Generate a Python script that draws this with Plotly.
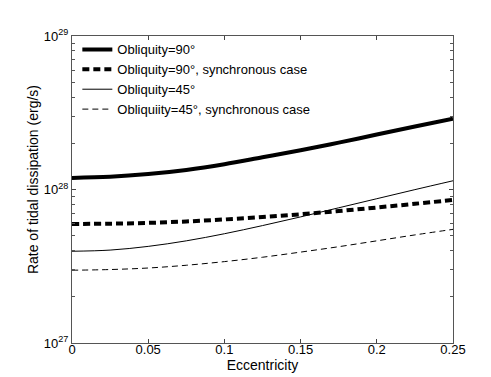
import plotly.graph_objects as go

# Eccentricity grid and tidal dissipation rates (erg/s)
ecc = [0, 0.025, 0.05, 0.075, 0.1, 0.125, 0.15, 0.175, 0.2, 0.225, 0.25]
obl90 = [1.19e28, 1.21e28, 1.26e28, 1.34e28, 1.46e28, 1.62e28,
         1.80e28, 2.02e28, 2.28e28, 2.57e28, 2.89e28]
obl90_sync = [5.96e27, 5.99e27, 6.06e27, 6.19e27, 6.38e27, 6.61e27,
              6.90e27, 7.24e27, 7.63e27, 8.07e27, 8.55e27]
obl45 = [3.96e27, 4.03e27, 4.26e27, 4.63e27, 5.15e27, 5.82e27,
         6.63e27, 7.60e27, 8.71e27, 9.98e27, 1.14e28]
obl45_sync = [2.98e27, 3.01e27, 3.08e27, 3.21e27, 3.39e27, 3.62e27,
              3.91e27, 4.24e27, 4.63e27, 5.06e27, 5.50e27]

x_ticks = [0, 0.05, 0.1, 0.15, 0.2, 0.25]
x_ticktext = ['0', '0.05', '0.1', '0.15', '0.2', '0.25']
decades = [27, 28, 29]

fig = go.Figure()

series = [
    ('Obliquity=90°', obl90, 4, 'solid'),
    ('Obliquity=90°, synchronous case', obl90_sync, 4, '7px,4px'),
    ('Obliquity=45°', obl45, 1, 'solid'),
    ('Obliquiity=45°, synchronous case', obl45_sync, 1, '6px,4px'),
]
for name, vals, w, dash in series:
    fig.add_trace(go.Scatter(
        x=ecc, y=vals, name=name, mode='lines',
        line=dict(color='black', width=w, dash=dash, shape='spline')
    ))

# log ticks: labelled decades, unlabelled 2..9 as minor ticks
major_vals = [10.0 ** d for d in decades]
major_text = ['10<sup>%d</sup>' % d for d in decades]
minor_vals = [m * 10.0 ** d for d in decades[:-1] for m in range(2, 10)]

fig.update_xaxes(
    title_text='Eccentricity',
    title_font=dict(size=14),
    title_standoff=0,
    range=[0, 0.25],
    tickvals=x_ticks,
    ticktext=x_ticktext,
    ticks='inside',
    ticklen=4,
    ticklabelstandoff=-6,
    showgrid=False,
    zeroline=False,
    showline=True,
    linecolor='#555',
    linewidth=1,
    mirror='ticks',
)

fig.update_yaxes(
    type='log',
    range=[27, 29],
    tickvals=major_vals,
    ticktext=major_text,
    ticks='inside',
    ticklen=4,
    minor=dict(tickvals=minor_vals, ticks='inside', ticklen=3,
               tickcolor='#555', showgrid=False),
    showgrid=False,
    zeroline=False,
    showline=True,
    linecolor='#555',
    linewidth=1,
    mirror='ticks',
)

# y title as rotated annotation (sits a bit above the axes' centre, like the original)
fig.add_annotation(
    text='Rate of tidal dissipation (erg/s)',
    xref='paper', yref='paper',
    x=-0.102, y=0.531,
    xanchor='center', yanchor='middle',
    textangle=-90,
    showarrow=False,
    font=dict(size=14),
)

fig.update_layout(
    width=491,
    height=377,
    plot_bgcolor='white',
    paper_bgcolor='white',
    margin=dict(l=64, r=46, t=28, b=42),
    font=dict(family='Liberation Sans, Arial, sans-serif', size=13, color='black'),
    showlegend=True,
    legend=dict(
        x=0.014, y=1.005,
        xanchor='left', yanchor='top',
        bgcolor='rgba(255,255,255,0)',
        borderwidth=0,
        font=dict(size=13),
        tracegroupgap=0,
    ),
)

fig.write_html("out.html")
